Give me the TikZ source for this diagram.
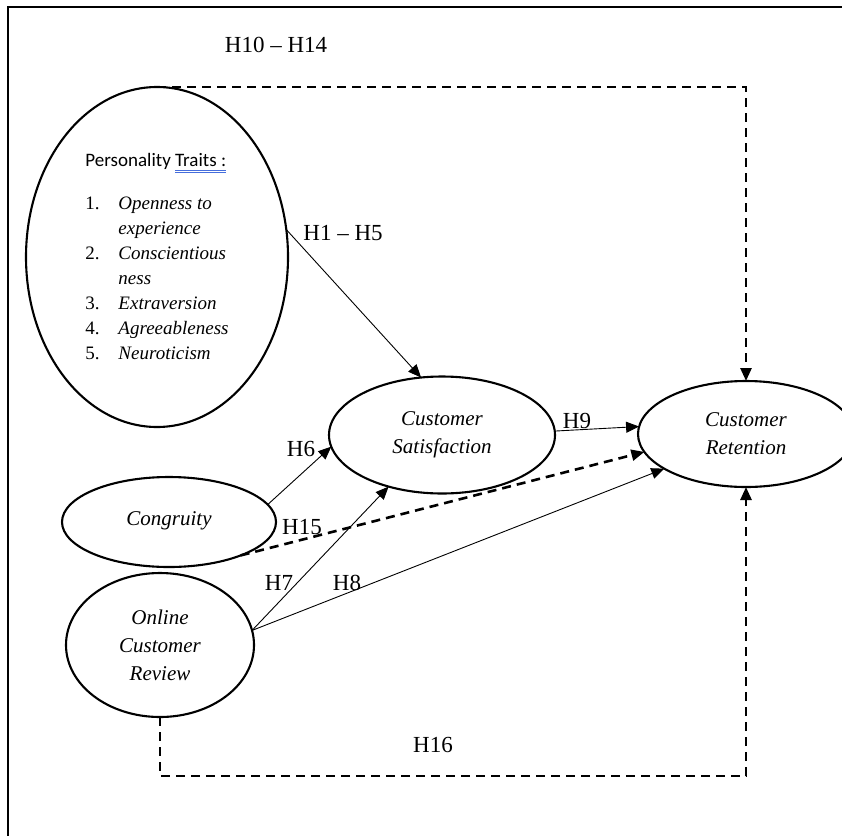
\documentclass[tikz,border=0pt]{standalone}
\usepackage{fontspec}
\setmainfont{Liberation Serif}
\newfontfamily\carlito{Carlito}
\usepackage{tikz}
\usetikzlibrary{shapes.geometric, arrows.meta}
\definecolor{spellblue}{RGB}{70, 110, 220}
\newsavebox{\markbox}
\newcommand{\spellmark}[1]{\sbox{\markbox}{#1}%
  \rlap{\textcolor{spellblue}{\rule[-3.5pt]{\wd\markbox}{0.7pt}}}%
  \rlap{\textcolor{spellblue}{\rule[-5.5pt]{\wd\markbox}{0.7pt}}}%
  \usebox{\markbox}}
\newcommand{\numitem}[2]{\makebox[33pt][l]{#1}\textit{#2}}

\begin{document}
\begin{tikzpicture}[x=1pt, y=-1pt,
  oval/.style={ellipse, draw, line width=2.1pt, inner sep=0pt, outer sep=0pt,
    align=center, font=\fontsize{21}{28}\selectfont\itshape},
  link/.style={line width=0.9pt, -{Triangle[length=13pt,width=11pt]}},
  hypo/.style={line width=2.6pt, dash pattern=on 9pt off 6pt, -{Triangle[length=13pt,width=11pt]}},
  lbl/.style={font=\fontsize{23}{26}\selectfont, inner sep=0pt}]
\useasboundingbox (0,0) rectangle (842,835);
\clip (0,0) rectangle (842,835);
\fill[white] (0,0) rectangle (842,835);
\draw[line width=1.8pt] (8,7) rectangle (880,880);

% constructs
\node[oval, minimum width=262pt, minimum height=340pt, align=left,
  font=\fontsize{19}{25}\selectfont] (traits) at (157,257) {%
  {\carlito Personality \spellmark{Traits :}}\\[18pt]
  \numitem{1.}{Openness to}\\
  \hspace*{33pt}\textit{experience}\\
  \numitem{2.}{Conscientious}\\
  \hspace*{33pt}\textit{ness}\\
  \numitem{3.}{Extraversion}\\
  \numitem{4.}{Agreeableness}\\
  \numitem{5.}{Neuroticism}};
\node[oval, minimum width=226pt, minimum height=117pt] (sat) at (442,435) {Customer\\Satisfaction};
\node[oval, minimum width=216pt, minimum height=106pt] (ret) at (746,434) {Customer\\Retention};
\node[oval, minimum width=214pt, minimum height=90pt] (cong) at (169,522) {\raisebox{7pt}{Congruity}};
\node[oval, minimum width=188pt, minimum height=144pt] (ocr) at (160,645) {Online\\Customer\\Review};

% direct paths
\draw[link] (traits.12) -- (sat.110);
\draw[link] (cong.10) -- (sat.186);
\draw[link] (ocr.9) -- (sat.224);
\draw[link] (ocr.9) -- (ret.203);
\draw[link] (sat.2) -- (ret.176);

% dashed paths
\coordinate (low) at (0,776);
\draw[hypo] (cong.335) -- (ret.190);
\draw[hypo] (traits.north) -| (ret.north);
\draw[hypo] (ocr.south) -- (ocr.south |- low) -| (ret.south);

% hypotheses
\node[lbl] (h10) at (276,45) {H10 -- H14};
\node[lbl] (h1) at (343,233) {H1 -- H5};
\node[lbl] (h6) at (301,449) {H6};
\node[lbl] (h15) at (302,527) {H15};
\node[lbl] (h7) at (279,583) {H7};
\node[lbl] (h8) at (347,583) {H8};
\node[lbl] (h9) at (577,421) {H9};
\node[lbl] (h16) at (433,745) {H16};
\end{tikzpicture}
\end{document}
